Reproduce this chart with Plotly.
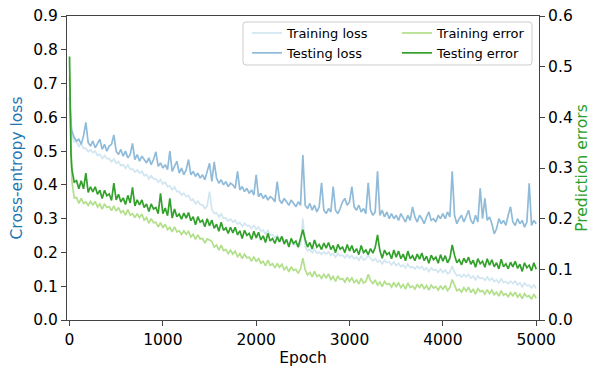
import plotly.graph_objects as go

# ---------------- data ----------------
EPOCHS = [0, 5, 10, 15, 20] + list(range(25, 5001, 25))

TRAIN_LOSS = [
    0.63, 0.60, 0.58, 0.56, 0.55,
    0.545, 0.528, 0.528, 0.514, 0.522, 0.508, 0.508, 0.498, 0.504, 0.495, 0.5, 0.487, 0.491, 0.478, 0.487, 0.478, 0.478, 0.468, 0.476, 0.464,
    0.469, 0.457, 0.46, 0.449, 0.459, 0.446, 0.447, 0.438, 0.444, 0.435, 0.44, 0.427, 0.431, 0.418, 0.427, 0.418, 0.418, 0.408, 0.416, 0.403,
    0.408, 0.395, 0.397, 0.385, 0.394, 0.38, 0.38, 0.37, 0.375, 0.365, 0.369, 0.355, 0.358, 0.344, 0.352, 0.342, 0.341, 0.33, 0.337, 0.38,
    0.328, 0.315, 0.317, 0.305, 0.314, 0.301, 0.302, 0.293, 0.299, 0.29, 0.296, 0.284, 0.289, 0.277, 0.287, 0.279, 0.28, 0.271, 0.28, 0.269,
    0.275, 0.263, 0.266, 0.255, 0.265, 0.252, 0.253, 0.244, 0.25, 0.241, 0.246, 0.233, 0.237, 0.224, 0.233, 0.224, 0.224, 0.214, 0.222, 0.30,
    0.216, 0.205, 0.209, 0.199, 0.21, 0.198, 0.201, 0.194, 0.202, 0.195, 0.202, 0.191, 0.197, 0.186, 0.197, 0.19, 0.192, 0.184, 0.194, 0.184,
    0.191, 0.181, 0.186, 0.177, 0.189, 0.178, 0.181, 0.192, 0.182, 0.175, 0.182, 0.171, 0.177, 0.166, 0.177, 0.17, 0.172, 0.163, 0.172, 0.161,
    0.168, 0.158, 0.163, 0.154, 0.166, 0.155, 0.158, 0.151, 0.159, 0.152, 0.159, 0.148, 0.154, 0.143, 0.154, 0.147, 0.149, 0.141, 0.151, 0.141,
    0.148, 0.137, 0.141, 0.16, 0.142, 0.131, 0.134, 0.127, 0.135, 0.128, 0.135, 0.124, 0.13, 0.119, 0.13, 0.123, 0.125, 0.117, 0.127, 0.117,
    0.124, 0.114, 0.119, 0.11, 0.122, 0.111, 0.114, 0.107, 0.115, 0.108, 0.115, 0.104, 0.11, 0.098, 0.109, 0.102, 0.103, 0.095, 0.104, 0.093,
]

TEST_LOSS = [
    0.66, 0.63, 0.61, 0.59, 0.57,
    0.56, 0.54, 0.53, 0.535, 0.52, 0.545, 0.585, 0.525, 0.515, 0.53, 0.51, 0.525, 0.535, 0.505, 0.52, 0.50, 0.515, 0.52, 0.548, 0.50,
    0.49, 0.505, 0.485, 0.50, 0.48, 0.49, 0.523, 0.475, 0.49, 0.47, 0.485, 0.475, 0.465, 0.48, 0.46, 0.475, 0.498, 0.455, 0.465, 0.45,
    0.46, 0.445, 0.50, 0.44, 0.455, 0.47, 0.435, 0.45, 0.43, 0.445, 0.475, 0.43, 0.44, 0.425, 0.435, 0.42, 0.43, 0.415, 0.44, 0.464,
    0.41, 0.468, 0.42, 0.405, 0.415, 0.40, 0.41, 0.395, 0.405, 0.40, 0.39, 0.44, 0.385, 0.395, 0.38, 0.39, 0.375, 0.385, 0.37, 0.43,
    0.365, 0.375, 0.36, 0.37, 0.355, 0.365, 0.36, 0.35, 0.41, 0.355, 0.345, 0.36, 0.35, 0.34, 0.355, 0.345, 0.335, 0.35, 0.34, 0.488,
    0.34, 0.33, 0.345, 0.325, 0.34, 0.32, 0.335, 0.406, 0.325, 0.315, 0.33, 0.32, 0.395, 0.325, 0.315, 0.33, 0.35, 0.36, 0.34, 0.35,
    0.395, 0.335, 0.325, 0.34, 0.32, 0.33, 0.315, 0.406, 0.325, 0.31, 0.32, 0.44, 0.31, 0.325, 0.305, 0.32, 0.30, 0.315, 0.30, 0.31,
    0.295, 0.315, 0.30, 0.29, 0.31, 0.295, 0.335, 0.305, 0.29, 0.31, 0.30, 0.285, 0.305, 0.32, 0.295, 0.30, 0.29, 0.31, 0.30, 0.315,
    0.30, 0.32, 0.305, 0.44, 0.31, 0.285, 0.30, 0.31, 0.29, 0.305, 0.325, 0.295, 0.285, 0.31, 0.29, 0.39, 0.30, 0.36, 0.295, 0.305,
    0.285, 0.255, 0.27, 0.30, 0.285, 0.295, 0.28, 0.31, 0.335, 0.29, 0.28, 0.30, 0.285, 0.295, 0.275, 0.29, 0.405, 0.28, 0.295, 0.285,
]

TRAIN_ERR = [
    0.48, 0.44, 0.38, 0.32, 0.29,
    0.275, 0.241, 0.242, 0.23, 0.24, 0.23, 0.233, 0.226, 0.234, 0.227, 0.234, 0.223, 0.229, 0.219, 0.229, 0.222, 0.224, 0.216, 0.225, 0.215,
    0.222, 0.212, 0.216, 0.207, 0.218, 0.207, 0.21, 0.202, 0.21, 0.202, 0.209, 0.197, 0.202, 0.191, 0.2, 0.192, 0.193, 0.184, 0.192, 0.182,
    0.189, 0.178, 0.183, 0.174, 0.184, 0.174, 0.176, 0.169, 0.176, 0.169, 0.175, 0.164, 0.169, 0.159, 0.168, 0.16, 0.161, 0.152, 0.16, 0.158,
    0.155, 0.144, 0.148, 0.138, 0.148, 0.137, 0.139, 0.131, 0.138, 0.13, 0.136, 0.125, 0.131, 0.121, 0.13, 0.123, 0.124, 0.116, 0.125, 0.115,
    0.122, 0.112, 0.116, 0.107, 0.118, 0.108, 0.111, 0.103, 0.111, 0.104, 0.11, 0.099, 0.105, 0.095, 0.105, 0.098, 0.1, 0.092, 0.101, 0.122,
    0.099, 0.089, 0.094, 0.085, 0.096, 0.086, 0.089, 0.082, 0.09, 0.083, 0.091, 0.08, 0.086, 0.076, 0.087, 0.08, 0.082, 0.075, 0.084, 0.076,
    0.083, 0.074, 0.079, 0.071, 0.082, 0.073, 0.076, 0.09, 0.078, 0.072, 0.079, 0.069, 0.075, 0.066, 0.076, 0.07, 0.072, 0.065, 0.074, 0.066,
    0.073, 0.064, 0.07, 0.061, 0.073, 0.064, 0.067, 0.061, 0.07, 0.064, 0.071, 0.061, 0.068, 0.059, 0.069, 0.063, 0.066, 0.059, 0.068, 0.06,
    0.068, 0.058, 0.064, 0.08, 0.067, 0.058, 0.061, 0.055, 0.064, 0.057, 0.065, 0.054, 0.061, 0.051, 0.062, 0.056, 0.058, 0.051, 0.06, 0.052,
    0.059, 0.05, 0.055, 0.047, 0.058, 0.049, 0.052, 0.046, 0.054, 0.048, 0.055, 0.045, 0.051, 0.042, 0.052, 0.046, 0.048, 0.041, 0.051, 0.043,
]

TEST_ERR = [
    0.52, 0.48, 0.40, 0.33, 0.30,
    0.298, 0.272, 0.275, 0.259, 0.275, 0.259, 0.29, 0.252, 0.263, 0.253, 0.263, 0.248, 0.256, 0.24, 0.256, 0.245, 0.249, 0.236, 0.27, 0.237,
    0.248, 0.233, 0.241, 0.228, 0.246, 0.231, 0.262, 0.225, 0.237, 0.227, 0.237, 0.222, 0.229, 0.214, 0.229, 0.219, 0.222, 0.21, 0.25, 0.21,
    0.221, 0.206, 0.24, 0.201, 0.219, 0.204, 0.209, 0.199, 0.211, 0.201, 0.212, 0.196, 0.204, 0.188, 0.204, 0.193, 0.197, 0.184, 0.2, 0.186,
    0.197, 0.181, 0.189, 0.175, 0.193, 0.177, 0.182, 0.171, 0.183, 0.172, 0.183, 0.168, 0.176, 0.161, 0.177, 0.167, 0.171, 0.159, 0.175, 0.162,
    0.173, 0.158, 0.166, 0.153, 0.171, 0.156, 0.161, 0.151, 0.164, 0.154, 0.165, 0.15, 0.159, 0.144, 0.161, 0.151, 0.156, 0.144, 0.161, 0.178,
    0.159, 0.144, 0.153, 0.14, 0.158, 0.144, 0.149, 0.139, 0.152, 0.142, 0.153, 0.139, 0.147, 0.133, 0.149, 0.14, 0.144, 0.133, 0.149, 0.136,
    0.147, 0.133, 0.141, 0.129, 0.147, 0.133, 0.138, 0.129, 0.141, 0.132, 0.143, 0.168, 0.137, 0.122, 0.138, 0.129, 0.133, 0.121, 0.138, 0.124,
    0.136, 0.121, 0.13, 0.117, 0.136, 0.121, 0.127, 0.117, 0.13, 0.12, 0.132, 0.117, 0.126, 0.112, 0.128, 0.119, 0.124, 0.112, 0.129, 0.116,
    0.127, 0.113, 0.122, 0.148, 0.128, 0.113, 0.119, 0.109, 0.122, 0.113, 0.124, 0.11, 0.118, 0.104, 0.121, 0.111, 0.116, 0.104, 0.121, 0.108,
    0.119, 0.105, 0.113, 0.101, 0.12, 0.105, 0.111, 0.101, 0.114, 0.105, 0.116, 0.102, 0.11, 0.096, 0.113, 0.103, 0.108, 0.097, 0.113, 0.10,
]

X_TICKS = [0, 1000, 2000, 3000, 4000, 5000]
Y1_TICKS = [0.0, 0.1, 0.2, 0.3, 0.4, 0.5, 0.6, 0.7, 0.8, 0.9]
Y2_TICKS = [0.0, 0.1, 0.2, 0.3, 0.4, 0.5, 0.6]

# ---------------- styling ----------------
W, H = 591, 370
ML, MR, MT, MB = 67, 52, 16, 50
PW, PH = W - ML - MR, H - MT - MB
FONT = "DejaVu Sans"
C_TRAIN_LOSS = "#d2e6f1"
C_TEST_LOSS = "#8fbbd9"
C_TRAIN_ERR = "#b2df8a"
C_TEST_ERR = "#33a02c"
AX = "#444444"
LW = 1.7

fig = go.Figure()
fig.add_trace(go.Scatter(x=EPOCHS, y=TRAIN_LOSS, name="Training loss", mode="lines",
                         line=dict(color=C_TRAIN_LOSS, width=LW), legend="legend"))
fig.add_trace(go.Scatter(x=EPOCHS, y=TEST_LOSS, name="Testing loss", mode="lines",
                         line=dict(color=C_TEST_LOSS, width=LW), legend="legend"))
fig.add_trace(go.Scatter(x=EPOCHS, y=TRAIN_ERR, name="Training error", mode="lines",
                         line=dict(color=C_TRAIN_ERR, width=LW), yaxis="y2", legend="legend2"))
fig.add_trace(go.Scatter(x=EPOCHS, y=TEST_ERR, name="Testing error", mode="lines",
                         line=dict(color=C_TEST_ERR, width=LW), yaxis="y2", legend="legend2"))


def px_x(p):
    return (p - ML) / PW


def px_y(p):
    return (MT + PH - p) / PH


# legend frame (rounded rectangle) in paper coordinates
x0, x1, y0, y1, r = 243, 532, 22, 65, 3
def P(x, y):
    return f"{px_x(x):.5f},{px_y(y):.5f}"
path = (f"M {P(x0 + r, y0)} L {P(x1 - r, y0)} Q {P(x1, y0)} {P(x1, y0 + r)} "
        f"L {P(x1, y1 - r)} Q {P(x1, y1)} {P(x1 - r, y1)} L {P(x0 + r, y1)} "
        f"Q {P(x0, y1)} {P(x0, y1 - r)} L {P(x0, y0 + r)} Q {P(x0, y0)} {P(x0 + r, y0)} Z")
fig.add_shape(type="path", path=path, xref="paper", yref="paper",
              line=dict(color="#cccccc", width=1), fillcolor="rgba(255,255,255,0.8)",
              layer="above")

axis_common = dict(showline=True, linecolor=AX, linewidth=1, ticks="outside", ticklen=5,
                   tickwidth=1, tickcolor=AX, showgrid=False, zeroline=False, automargin=False,
                   tickfont=dict(family=FONT, size=15.5, color="black"))

fig.update_layout(
    width=W, height=H,
    margin=dict(l=ML, r=MR, t=MT, b=MB),
    paper_bgcolor="white", plot_bgcolor="white",
    font=dict(family=FONT, color="black"),
    xaxis=dict(range=[-27, 5030], tickvals=X_TICKS, mirror=True,
               title=dict(text="Epoch", font=dict(family=FONT, size=15.5, color="black"), standoff=4),
               **axis_common),
    yaxis=dict(range=[0, 0.9], tickvals=Y1_TICKS, tickformat=".1f",
               title=dict(text="Cross-entropy loss", font=dict(family=FONT, size=15.5, color="#1f77b4"), standoff=6),
               **axis_common),
    yaxis2=dict(range=[0, 0.6], tickvals=Y2_TICKS, tickformat=".1f", overlaying="y", side="right",
                title=dict(text="Prediction errors", font=dict(family=FONT, size=15.5, color="#2ca02c"), standoff=6),
                **axis_common),
    legend=dict(x=px_x(247), y=px_y(18), xanchor="left", yanchor="top", bgcolor="rgba(0,0,0,0)",
                borderwidth=0, font=dict(family=FONT, size=13, color="black"),
                tracegroupgap=0, itemwidth=30),
    legend2=dict(x=px_x(397), y=px_y(18), xanchor="left", yanchor="top", bgcolor="rgba(0,0,0,0)",
                 borderwidth=0, font=dict(family=FONT, size=13, color="black"),
                 tracegroupgap=0, itemwidth=30),
    showlegend=True,
)

fig.write_html("out.html")
